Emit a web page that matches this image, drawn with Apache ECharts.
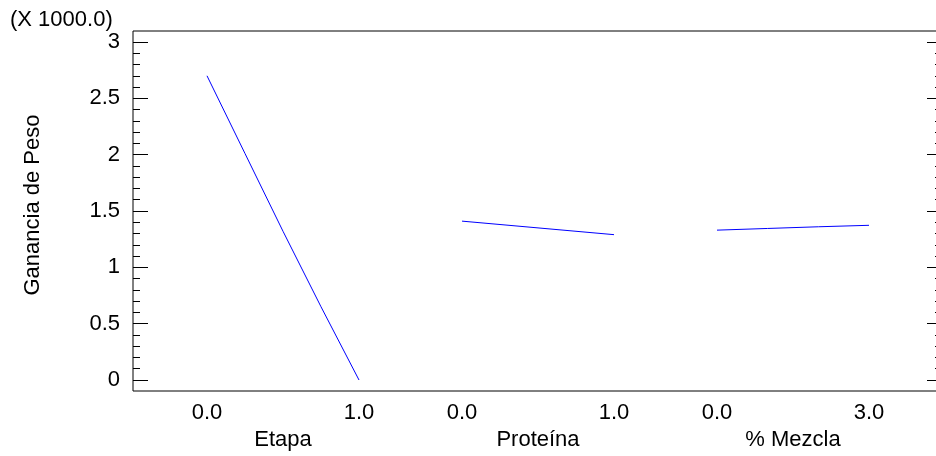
<!DOCTYPE html>
<html>
<head>
<meta charset="utf-8">
<script src="https://cdn.jsdelivr.net/npm/echarts@6/dist/echarts.min.js"></script>
<style>html,body{margin:0;padding:0;background:#fff}#c{width:936px;height:456px}</style>
</head>
<body>
<div id="c"></div>
<script>
// Data (Y in thousands)
const yTitle = 'Ganancia de Peso';
const yScaleNote = '(X 1000.0)';
const factorNames = ['Etapa', 'Proteína', '% Mezcla'];
const etapaX = [0, 0.25, 0.5, 0.75, 1];
const etapaY = [2.70, 2.01, 1.32, 0.65, 0.00];
const proteinaX = [0, 0.5, 1];
const proteinaY = [1.41, 1.35, 1.29];
const mezclaX = [0, 1, 2, 3];
const mezclaY = [1.33, 1.345, 1.36, 1.373];
const factorMax = [1, 1, 3];
const yMin = 0, yMax = 3, yStep = 0.5;

const FONT = 'Liberation Sans, Arial, Helvetica, sans-serif';
const FS = 22;

const chart = echarts.init(document.getElementById('c'), null, {renderer: 'canvas'});

const pairs = (xs, ys) => xs.map((x, i) => [x, ys[i]]);
const seriesData = [pairs(etapaX, etapaY), pairs(proteinaX, proteinaY), pairs(mezclaX, mezclaY)];

const panelLeft = [207, 462, 717];
const panelWidth = 152;
const innerTop = 42, innerHeight = 338;

const grids = [
  {left: 133, top: 31, width: 809, height: 360, show: true, borderColor: '#000', borderWidth: 1,
   backgroundColor: 'transparent', outerBoundsMode: 'none', containLabel: false},
  {left: 133, top: innerTop, width: 809, height: innerHeight, show: false, outerBoundsMode: 'none', containLabel: false}
];
panelLeft.forEach(l => grids.push({left: l, top: innerTop, width: panelWidth, height: innerHeight,
  show: false, outerBoundsMode: 'none', containLabel: false}));

const hiddenAxis = (gi, extra) => Object.assign({
  gridIndex: gi, type: 'value', show: false, splitLine: {show: false}
}, extra || {});

const xAxes = [hiddenAxis(0, {min: 0, max: 1}), hiddenAxis(1, {min: 0, max: 1})];
const yAxes = [hiddenAxis(0, {min: 0, max: 1})];

const tickAxis = (pos, showLabel) => ({
  gridIndex: 1, type: 'value', position: pos, min: yMin, max: yMax, interval: yStep,
  axisLine: {show: false},
  axisTick: {show: true, inside: true, length: 15, lineStyle: {color: '#000', width: 1}},
  minorTick: {show: true, splitNumber: 5, length: 7, lineStyle: {color: '#000', width: 1}},
  splitLine: {show: false},
  axisLabel: {show: showLabel, margin: 13, color: '#000', fontFamily: FONT, fontSize: FS}
});
yAxes.push(tickAxis('left', true));
yAxes.push(tickAxis('right', false));

const series = [];
factorNames.forEach((name, i) => {
  const gi = i + 2;
  xAxes.push({
    gridIndex: gi, type: 'value', min: 0, max: factorMax[i], interval: factorMax[i],
    position: 'bottom',
    axisLine: {show: false}, axisTick: {show: false}, splitLine: {show: false},
    axisLabel: {margin: 22, color: '#000', fontFamily: FONT, fontSize: FS,
      formatter: v => v.toFixed(1)},
    name: name, nameLocation: 'middle', nameGap: 47,
    nameTextStyle: {color: '#000', fontFamily: FONT, fontSize: FS}
  });
  yAxes.push(hiddenAxis(gi, {min: yMin, max: yMax}));
  series.push({
    type: 'line', xAxisIndex: i + 2, yAxisIndex: i + 3,
    data: seriesData[i], showSymbol: false, smooth: false, clip: false,
    lineStyle: {color: '#0000ff', width: 1}, animation: false, silent: true
  });
});

chart.setOption({
  animation: false,
  backgroundColor: '#fff',
  grid: grids,
  xAxis: xAxes,
  yAxis: yAxes,
  series: series,
  graphic: [
    {type: 'text', left: 10, top: 9, style: {text: yScaleNote, fill: '#000', font: FS + 'px ' + FONT}},
    {type: 'text', x: 33, y: 205, rotation: Math.PI / 2,
      style: {text: yTitle, fill: '#000', font: FS + 'px ' + FONT, align: 'center', verticalAlign: 'middle'}}
  ]
});
</script>
</body>
</html>
